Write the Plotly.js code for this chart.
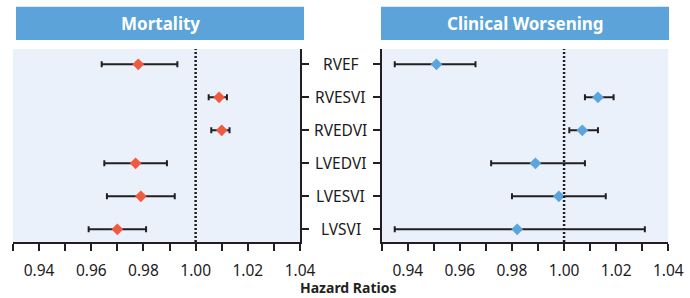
<!DOCTYPE html>
<html>
<head>
<meta charset="utf-8">
<script src="https://cdn.plot.ly/plotly-3.0.1.min.js"></script>
<style>
  html, body { margin: 0; padding: 0; background: #ffffff; }
  #chart { width: 690px; height: 298px; }
</style>
</head>
<body>
<div id="chart"></div>
<script>
// ---- Data ----
const categories = ['RVEF', 'RVESVI', 'RVEDVI', 'LVEDVI', 'LVESVI', 'LVSVI'];

const mortalityHR = [0.978, 1.009, 1.010, 0.977, 0.979, 0.970];
const mortalityLo = [0.964, 1.005, 1.006, 0.965, 0.966, 0.959];
const mortalityHi = [0.993, 1.012, 1.013, 0.989, 0.992, 0.981];

const worseningHR = [0.951, 1.013, 1.007, 0.989, 0.998, 0.982];
const worseningLo = [0.935, 1.008, 1.002, 0.972, 0.980, 0.935];
const worseningHi = [0.966, 1.019, 1.013, 1.008, 1.016, 1.031];

const xTickVals = [0.94, 0.96, 0.98, 1.00, 1.02, 1.04];
const xTickText = ['0.94', '0.96', '0.98', '1.00', '1.02', '1.04'];
const panelTitles = ['Mortality', 'Clinical Worsening'];
const xAxisTitle = 'Hazard Ratios';
const referenceHR = 1.0;

// ---- Styling ----
const W = 690, H = 298;
const FONT = 'Noto Sans, Open Sans, DejaVu Sans, sans-serif';
const INK = '#231f20';
const ORANGE = '#F15A3F';
const BLUE = '#5BA5DC';
const BANNER = '#5BA3D9';
const PANEL_BG = '#EAF1FA';

const plusErr = (hr, hi) => hr.map((v, i) => hi[i] - v);
const minusErr = (hr, lo) => hr.map((v, i) => v - lo[i]);

function forestTrace(hr, lo, hi, color, xa, ya) {
  return {
    type: 'scatter', mode: 'markers',
    x: hr, y: categories, xaxis: xa, yaxis: ya,
    marker: { symbol: 'diamond', size: 9, color: color, line: { width: 0 } },
    error_x: {
      type: 'data', symmetric: false,
      array: plusErr(hr, hi), arrayminus: minusErr(hr, lo),
      color: INK, thickness: 2, width: 3
    },
    hoverinfo: 'skip', showlegend: false
  };
}

const traces = [
  forestTrace(mortalityHR, mortalityLo, mortalityHi, ORANGE, 'x', 'y'),
  forestTrace(worseningHR, worseningLo, worseningHi, BLUE, 'x2', 'y2')
];

const yDomain = [(H - 242) / H, (H - 49) / H];
const yRange = [5.385, -0.464];

function xAxis(domain, anchor) {
  return {
    domain: domain, anchor: anchor,
    range: [0.93, 1.04],
    tickvals: xTickVals, ticktext: xTickText,
    ticks: 'outside', ticklen: 7, tickwidth: 2, tickcolor: INK,
    ticklabelstandoff: 6,
    minor: { dtick: 0.01, tick0: 0.93, ticks: 'outside', ticklen: 7, tickwidth: 2, tickcolor: INK, showgrid: false },
    showline: true, linewidth: 2, linecolor: INK,
    showgrid: false, zeroline: false,
    tickfont: { family: FONT, size: 15.5, color: '#1c1a1b' },
    fixedrange: true
  };
}
function yAxis(anchor, side) {
  return {
    domain: yDomain, anchor: anchor, side: side,
    type: 'category', categoryorder: 'array', categoryarray: categories,
    range: yRange,
    ticks: 'outside', ticklen: 7, tickwidth: 2, tickcolor: INK,
    showticklabels: false,
    showline: true, linewidth: 2, linecolor: INK,
    showgrid: false, zeroline: false, fixedrange: true
  };
}

const leftDom = [13 / W, 300 / W];
const rightDom = [381.7 / W, 668.3 / W];

const shapes = [
  { type: 'rect', xref: 'paper', yref: 'paper', x0: 16 / W, x1: 304 / W, y0: 1 - 40 / H, y1: 1 - 6.7 / H,
    fillcolor: BANNER, line: { width: 0 } },
  { type: 'rect', xref: 'paper', yref: 'paper', x0: 381 / W, x1: 669 / W, y0: 1 - 40 / H, y1: 1 - 6.7 / H,
    fillcolor: BANNER, line: { width: 0 } },
  { type: 'line', xref: 'x', yref: 'y domain', x0: referenceHR, x1: referenceHR, y0: 0, y1: 1,
    line: { color: INK, width: 2.5, dash: '2px,2px' } },
  { type: 'line', xref: 'x2', yref: 'y2 domain', x0: referenceHR, x1: referenceHR, y0: 0, y1: 1,
    line: { color: INK, width: 2.5, dash: '2px,2px' } }
];

const annotations = [
  { xref: 'paper', yref: 'paper', x: 160 / W, y: 1 - 23.5 / H, text: '<b>' + panelTitles[0] + '</b>',
    showarrow: false, font: { family: FONT, size: 17, color: '#ffffff' }, xanchor: 'center', yanchor: 'middle' },
  { xref: 'paper', yref: 'paper', x: 525 / W, y: 1 - 23.5 / H, text: '<b>' + panelTitles[1] + '</b>',
    showarrow: false, font: { family: FONT, size: 17, color: '#ffffff' }, xanchor: 'center', yanchor: 'middle' },
  { xref: 'paper', yref: 'paper', x: 348 / W, y: 0, text: '<b>' + xAxisTitle + '</b>',
    showarrow: false, font: { family: FONT, size: 14, color: INK }, xanchor: 'center', yanchor: 'bottom',
    borderpad: 0, yshift: 0 }
].concat(categories.map(c => ({
  xref: 'paper', yref: 'y', x: 340.5 / W, y: c, text: c, showarrow: false,
  font: { family: FONT, size: 15.5, color: '#1c1a1b' }, xanchor: 'center', yanchor: 'middle'
})));

const layout = {
  width: W, height: H,
  margin: { l: 0, r: 0, t: 0, b: 0, pad: 0 },
  paper_bgcolor: '#ffffff', plot_bgcolor: PANEL_BG,
  showlegend: false,
  font: { family: FONT, color: INK },
  xaxis: xAxis(leftDom, 'y'),
  yaxis: yAxis('x', 'right'),
  xaxis2: xAxis(rightDom, 'y2'),
  yaxis2: yAxis('x2', 'left'),
  shapes: shapes,
  annotations: annotations
};

Plotly.newPlot('chart', traces, layout, { staticPlot: true, displayModeBar: false });
</script>
</body>
</html>
